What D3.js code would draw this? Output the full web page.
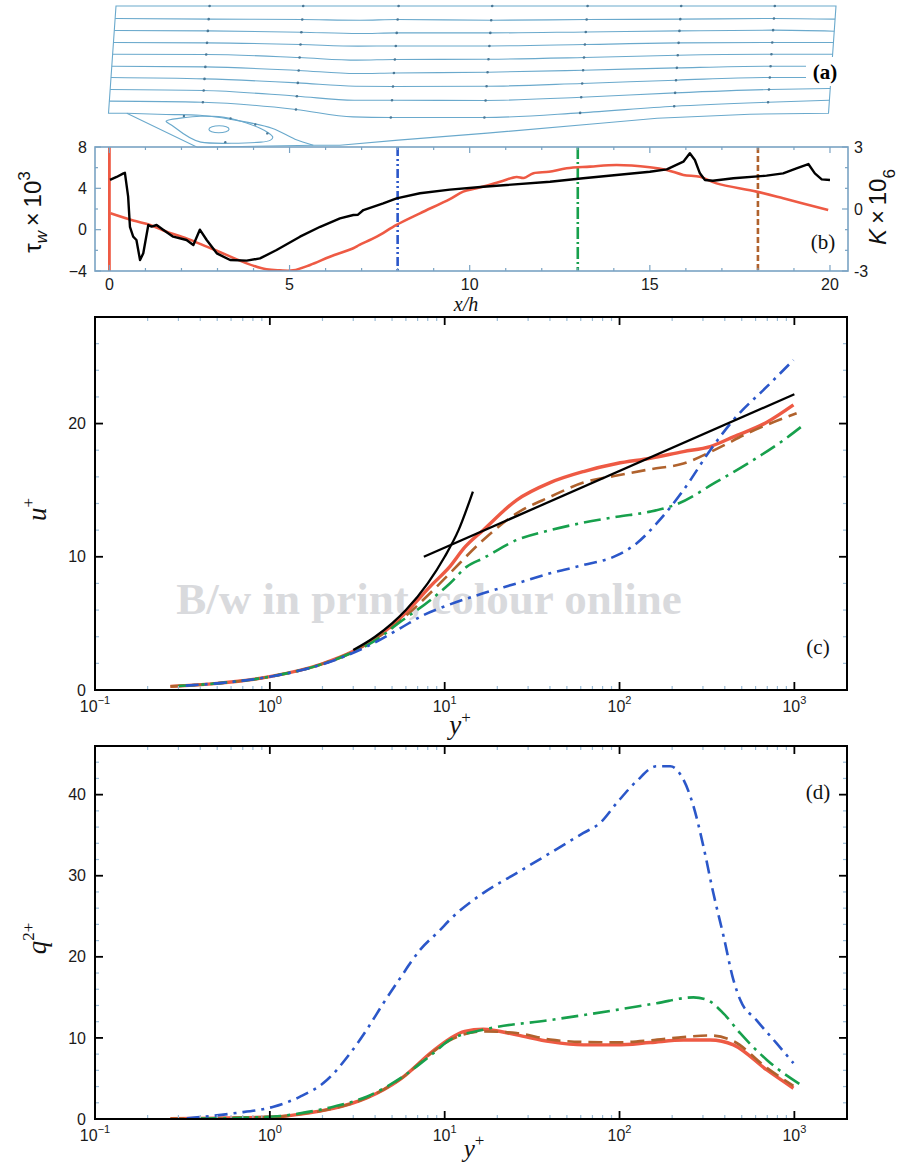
<!DOCTYPE html>
<html>
<head>
<meta charset="utf-8">
<script src="https://cdn.jsdelivr.net/npm/d3@7"></script>
<style>
  body { margin: 0; background: #fff; }
  svg { display: block; }
</style>
</head>
<body>
<svg id="fig" width="907" height="1165"></svg>
<script>
// ---------------- Data ----------------
// (a) streamlines over the backward-facing ramp, (x/h, height) pairs
const streamX = [0, 2.6, 5.2, 6.8, 7.85, 10.45, 13.1, 15.7, 18.3, 20];
const streamY1 = [12, 12, 12, 12, 12, 12, 12, 12, 12, 12];
const streamY2 = [10.95, 10.89, 10.86, 10.80, 10.86, 10.80, 10.86, 10.89, 10.95, 10.89];
const streamY3 = [9.93, 9.90, 9.79, 9.68, 9.73, 9.73, 9.81, 9.90, 9.96, 9.87];
const streamY4 = [8.92, 8.89, 8.75, 8.61, 8.63, 8.63, 8.75, 8.89, 8.92, 8.92];
const streamY5 = [7.93, 7.91, 7.65, 7.43, 7.49, 7.51, 7.65, 7.85, 7.93, 7.93];
const streamY6 = [6.92, 6.86, 6.56, 6.30, 6.35, 6.41, 6.58, 6.78, 6.92, 6.92];
const streamY7 = [5.97, 5.85, 5.51, 5.23, 5.21, 5.23, 5.46, 5.74, 5.97, 5.97];
const streamY8 = [4.95, 4.87, 4.39, 4.05, 4.05, 4.03, 4.30, 4.67, 4.95, 5.04];
const streamY9 = [3.97, 3.88, 3.27, 2.64, 2.59, 2.59, 2.98, 3.54, 3.88, 4.05];
const arrowX = [2.6, 5.2, 7.85, 10.45, 13.1, 15.7, 18.3];
const wallX = [20, 17.82, 15.25, 13.69, 10.56, 8.1, 6.49, 5.75, 2.53, 0.51, 0];
const wallY = [2.95, 2.87, 2.53, 2.11, 1.27, 0.68, 0.25, 0.25, 0.08, 2.95, 2.95];
const dividingX = [0.51, 1.6, 2.54, 3.39, 4.57, 5.23, 5.75];
const dividingY = [2.95, 2.85, 2.78, 2.45, 1.69, 0.76, 0.25];
const bubbleX = [1.66, 2.55, 3.38, 4.24, 4.61, 4.29, 2.62, 1.78];
const bubbleY = [2.36, 2.70, 2.53, 1.69, 0.93, 0.51, 0.51, 1.94];
const eddyCore = [3.1, 1.6, 0.28, 0.3]; // cx, cy, rx, ry

// (b) wall shear stress (left axis) and acceleration parameter K (right axis)
const tauWall = [[0.016,4.81],[0.2,5.1],[0.39,5.45],[0.43,5.5],[0.52,3.19],[0.57,0.28],[0.66,-0.68],[0.75,-1.0],
  [0.85,-2.94],[0.94,-2.29],[1.08,0.45],[1.17,0.3],[1.31,0.45],[1.49,0.0],[1.77,-0.68],[2.14,-1.0],[2.33,-1.49],
  [2.51,0.0],[2.7,-1.0],[2.98,-2.29],[3.35,-2.94],[3.81,-3.0],[4.18,-2.78],[4.64,-1.97],[5.29,-0.68],[5.85,0.28],
  [6.4,1.1],[6.77,1.42],[6.9,1.45],[7.05,1.9],[7.6,2.55],[7.97,3.03],[8.62,3.52],[9.45,3.88],[10.38,4.16],
  [12.23,4.64],[13.15,4.97],[15.0,5.61],[15.47,5.84],[15.93,6.58],[16.11,7.39],[16.25,6.74],[16.39,5.45],
  [16.53,4.81],[16.75,4.74],[17.32,4.97],[18.24,5.23],[18.7,5.45],[19.07,5.94],[19.4,6.35],[19.58,5.45],
  [19.77,4.87],[20.0,4.81]];
// K runs off the scale at the step edge (x/h = 0)
const accelKSpike = [[0, 3.5], [0, -3.5]];
const accelK = [[0.03,-0.21],[0.66,-0.56],[1.13,-0.77],[1.59,-1.1],[2.14,-1.42],[2.7,-1.82],
  [3.25,-2.22],[3.81,-2.63],[4.36,-2.92],[4.73,-2.97],[5.1,-2.97],[5.57,-2.71],[6.12,-2.31],[6.77,-1.9],
  [6.94,-1.74],[7.42,-1.34],[7.97,-0.77],[8.62,-0.21],[9.45,0.48],[9.82,0.84],[10.19,1.0],[10.84,1.32],
  [11.3,1.55],[11.5,1.5],[11.77,1.73],[12.2,1.8],[12.69,1.97],[13.34,2.05],[14.08,2.13],[15.0,2.02],
  [15.47,1.89],[15.93,1.65],[16.39,1.56],[16.85,1.24],[17.96,0.84],[18.7,0.52],[19.95,-0.05]];
const stationX = [8, 13, 18];
const bTicksX = [0, 5, 10, 15, 20];
const bTicksLeft = [-4, 0, 4, 8];
const bTicksRight = [-3, 0, 3];

// (c) mean velocity profiles u+ against y+
const uRed = [[0.27,0.27],[0.5,0.5],[1,1.0],[2,1.97],[3,2.9],[4,3.85],[5.56,5.4],[8.6,8.0],[10.7,9.26],
  [13,10.7],[16.6,12.0],[25.8,14.26],[40.1,15.57],[62.2,16.4],[96.5,17.0],[150,17.4],[232,17.9],[330,18.27],
  [448,19.0],[696,20.1],[988,21.4]];
const uBrown = [[0.27,0.27],[0.5,0.5],[1,1.0],[2,1.97],[3,2.9],[4,3.83],[5.56,5.2],[8.6,7.5],[10.7,8.76],
  [16.6,11.26],[25.8,13.26],[40.1,14.5],[62.2,15.57],[96.5,16.1],[150,16.57],[232,17.0],[360,18.1],
  [540,19.27],[1030,20.77]];
const uGreen = [[0.3,0.3],[0.5,0.5],[1,1.0],[2,1.95],[3,2.85],[4,3.7],[5.56,5.1],[8.3,6.76],[10.7,8.0],
  [13.4,9.26],[16.6,9.89],[25.8,11.26],[40.1,12.0],[62.2,12.56],[96.5,13.0],[150,13.39],[214,13.96],
  [360,15.64],[540,17.0],[870,18.77],[1130,19.9]];
const uBlue = [[0.33,0.33],[0.5,0.5],[1,1.0],[2,1.93],[3.58,3.25],[5.56,4.63],[7.5,5.6],[10.5,6.38],
  [16.6,7.26],[25.8,8.0],[40.1,8.76],[62.2,9.38],[96.5,10.1],[125,11.0],[163,12.5],[232,15.0],[330,18.0],
  [448,20.27],[696,22.77],[988,24.77]];
const uViscous = [[3,3],[4,4],[5,5],[6,6],[8,8],[10,10],[12,12],[14.5,14.9]];
const uLogLaw = [[7.6,10],[1000,22.2]];

// (d) turbulent kinetic energy q2+ against y+
const qRed = [[0.27,0.05],[1.05,0.25],[1.49,0.6],[2.31,1.3],[3.58,2.6],[5.56,4.9],[8.6,8.4],[10.7,9.9],
  [13,10.8],[16.6,11.07],[25.8,10.37],[40.1,9.54],[62.2,9.14],[96.5,9.14],[150,9.43],[232,9.75],[330,9.75],
  [448,9.14],[696,6.05],[988,3.79]];
const qBrown = [[0.27,0.05],[1.05,0.25],[1.49,0.6],[2.31,1.3],[3.58,2.6],[5.56,4.9],[8.6,8.3],[10.7,9.7],
  [16.6,10.8],[25.8,10.6],[40.1,9.8],[62.2,9.5],[96.5,9.45],[150,9.7],[232,10.1],[330,10.3],[448,9.6],
  [696,6.3],[988,4.1]];
const qGreen = [[0.4,0.05],[1.05,0.3],[1.49,0.7],[2.31,1.52],[3.58,2.75],[5.56,5.0],[8.6,8.1],[10.7,9.75],
  [16.6,11.0],[40.1,12.2],[96.5,13.46],[163,14.28],[265,15.0],[316,14.7],[394,13.0],[490,10.58],
  [696,7.28],[1130,4.0]];
const qBlue = [[0.335,0.08],[0.62,0.7],[1.05,1.52],[1.49,2.75],[2.12,4.8],[2.88,8.1],[3.58,11.0],
  [4.46,14.28],[5.56,17.37],[7.23,20.86],[9.4,23.3],[10.7,24.57],[16.6,27.86],[25.8,30.33],[40.1,32.8],
  [62.2,35.28],[77.3,36.5],[96.5,38.98],[125,41.65],[163,43.5],[195,43.5],[232,41.85],[265,38.56],
  [302,33.6],[344,27.86],[394,22.5],[448,17.16],[490,14.7],[607,12.2],[790,9.35],[988,6.88]];

const decadeTicks = [0.1, 1, 10, 100, 1000];
const decadeExp = ['\u22121', '0', '1', '2', '3'];
const cTicksY = [0, 10, 20];
const dTicksY = [0, 10, 20, 30, 40];

// ---------------- Styles ----------------
const SANS = "'Liberation Sans', Arial, Helvetica, sans-serif";
const SERIF = "'Liberation Serif', 'Times New Roman', serif";
const COL = {
  red: '#ee5a44', brown: '#b0622d', green: '#17a04c', blue: '#2b57c9', black: '#000',
  stream: '#6aa9cc', frameB: '#7aa3c3', minor: '#9cbdd7'
};

const svg = d3.select('#fig');
const defs = svg.append('defs');

// ---------------- Panel (a): streamlines ----------------
const ax = d3.scaleLinear().domain([0, 20]).range([116, 836]);
const ay = d3.scaleLinear().domain([0, 12]).range([148.2, 6]);
const gA = svg.append('g').attr('transform', 'translate(0,6) skewX(-4) translate(0,-6)');
const aStroke = { fill: 'none', stroke: COL.stream, 'stroke-width': 1.1 };
function styled(sel, s) { Object.entries(s).forEach(([k, v]) => sel.attr(k, v)); return sel; }

const outline = [[0, 12], [20, 12]].concat(wallX.map((x, i) => [x, wallY[i]]));
styled(gA.append('path')
  .attr('d', d3.line().x(d => ax(d[0])).y(d => ay(d[1]))(outline) + 'Z'), aStroke);

const streamlines = [streamY2, streamY3, streamY4, streamY5, streamY6, streamY7, streamY8, streamY9];
const sLine = d3.line().x(d => ax(d[0])).y(d => ay(d[1])).curve(d3.curveMonotoneX);
[streamY1].concat(streamlines).forEach((ys, li) => {
  const pts = streamX.map((x, i) => [x, ys[i]]);
  if (li > 0) styled(gA.append('path').attr('d', sLine(pts)), aStroke);
  const interp = d3.scaleLinear().domain(streamX).range(ys);
  arrowX.forEach(x => {
    gA.append('circle').attr('cx', ax(x)).attr('cy', ay(interp(x))).attr('r', 1.3)
      .attr('fill', '#4a7896');
  });
});

styled(gA.append('path').attr('d', d3.line().x(d => ax(d[0])).y(d => ay(d[1]))
  .curve(d3.curveCatmullRom)(dividingX.map((x, i) => [x, dividingY[i]]))), aStroke);
styled(gA.append('path').attr('d', d3.line().x(d => ax(d[0])).y(d => ay(d[1]))
  .curve(d3.curveCardinalClosed.tension(0.2))(bubbleX.map((x, i) => [x, bubbleY[i]]))), aStroke);
styled(gA.append('ellipse')
  .attr('cx', ax(eddyCore[0])).attr('cy', ay(eddyCore[1]))
  .attr('rx', ax(eddyCore[2]) - ax(0)).attr('ry', ay(0) - ay(eddyCore[3])), aStroke);
[[2.1, 2.72], [3.4, 2.52], [4.45, 1.25], [3.3, 0.51], [4.1, 2.0]].forEach(p => {
  gA.append('circle').attr('cx', ax(p[0])).attr('cy', ay(p[1])).attr('r', 1.2).attr('fill', '#4a7896');
});

svg.append('rect').attr('x', 806).attr('y', 57).attr('width', 34).attr('height', 29).attr('fill', '#fff');
svg.append('text').attr('x', 825).attr('y', 79).attr('text-anchor', 'middle')
  .attr('font-family', SERIF).attr('font-size', 21).attr('font-weight', 'bold').text('(a)');

// ---------------- Panel (b): wall shear stress and K ----------------
const bx = d3.scaleLinear().domain([-0.4, 20.5]).range([95, 848]);
const byL = d3.scaleLinear().domain([-4, 8]).range([271, 147]);
const byR = d3.scaleLinear().domain([-3, 3]).range([271, 147]);
const [bL, bR] = bx.range(), [bB, bT] = byL.range();

defs.append('clipPath').attr('id', 'clipB').append('rect')
  .attr('x', bL).attr('y', bT).attr('width', bR - bL).attr('height', bB - bT);

const gB = svg.append('g');
const gBc = gB.append('g').attr('clip-path', 'url(#clipB)');

// station markers
const stationStyle = [
  { c: COL.blue, d: '9,3,2,3,2,3' },
  { c: COL.green, d: '12,3,2,3' },
  { c: COL.brown, d: '6,3' }
];
stationX.forEach((x, i) => {
  gBc.append('line').attr('x1', bx(x)).attr('x2', bx(x)).attr('y1', bT).attr('y2', bB)
    .attr('stroke', stationStyle[i].c).attr('stroke-width', 2.6)
    .attr('stroke-dasharray', stationStyle[i].d);
});

const kLine = d3.line().x(d => bx(d[0])).y(d => byR(d[1]));
gBc.append('path').attr('d', kLine(accelKSpike))
  .attr('fill', 'none').attr('stroke', COL.red).attr('stroke-width', 2.8);
gBc.append('path').attr('d', kLine.curve(d3.curveCatmullRom.alpha(0.5))(accelK))
  .attr('fill', 'none').attr('stroke', COL.red).attr('stroke-width', 2.6);
gBc.append('path').attr('d', d3.line().x(d => bx(d[0])).y(d => byL(d[1]))(tauWall))
  .attr('fill', 'none').attr('stroke', COL.black).attr('stroke-width', 2.4)
  .attr('stroke-linejoin', 'round');

// frame and ticks
gB.append('rect').attr('x', bL).attr('y', bT).attr('width', bR - bL).attr('height', bB - bT)
  .attr('fill', 'none').attr('stroke', COL.frameB).attr('stroke-width', 1.6);
const gBt = gB.append('g').attr('stroke', COL.frameB).attr('stroke-width', 1.2);
d3.range(0, 21).forEach(v => {
  const L = bTicksX.includes(v) ? 6 : 3;
  gBt.append('line').attr('x1', bx(v)).attr('x2', bx(v)).attr('y1', bB).attr('y2', bB - L);
  gBt.append('line').attr('x1', bx(v)).attr('x2', bx(v)).attr('y1', bT).attr('y2', bT + L);
});
d3.range(-4, 9, 2).forEach(v => {
  const L = bTicksLeft.includes(v) ? 6 : 3;
  gBt.append('line').attr('x1', bL).attr('x2', bL + L).attr('y1', byL(v)).attr('y2', byL(v));
});
d3.range(-3, 4, 1).forEach(v => {
  const L = bTicksRight.includes(v) ? 6 : 3;
  gBt.append('line').attr('x1', bR).attr('x2', bR - L).attr('y1', byR(v)).attr('y2', byR(v));
});
const tickTxt = (g) => g.attr('font-family', SANS).attr('font-size', 16).attr('fill', '#1a1a1a');
bTicksX.forEach(v => tickTxt(gB.append('text')).attr('x', bx(v)).attr('y', bB + 19)
  .attr('text-anchor', 'middle').text(v));
bTicksLeft.forEach(v => tickTxt(gB.append('text')).attr('x', bL - 8).attr('y', byL(v)).attr('dy', '0.35em')
  .attr('text-anchor', 'end').text(v < 0 ? '\u2212' + (-v) : v));
bTicksRight.forEach(v => tickTxt(gB.append('text')).attr('x', bR + 6).attr('y', byR(v)).attr('dy', '0.35em')
  .attr('text-anchor', 'start').text(v < 0 ? '-' + (-v) : v));

// axis titles
const tauT = svg.append('text').attr('transform', 'translate(41,212) rotate(-90)')
  .attr('text-anchor', 'middle').attr('font-family', SANS).attr('font-size', 24).attr('fill', '#111');
tauT.append('tspan').text('\u03c4');
tauT.append('tspan').attr('dy', 6).attr('font-size', 17).attr('font-style', 'italic').text('w');
tauT.append('tspan').attr('dy', -6).text('\u2009\u00d7\u200910');
tauT.append('tspan').attr('dy', -11).attr('font-size', 17).text('3');

const kT = svg.append('text').attr('transform', 'translate(886,207) rotate(-90)')
  .attr('text-anchor', 'middle').attr('font-family', SANS).attr('font-size', 24).attr('fill', '#111');
kT.append('tspan').attr('font-style', 'italic').text('K');
kT.append('tspan').text('\u2009\u00d7\u200910');
kT.append('tspan').attr('dy', 9).attr('font-size', 17).text('6');

const xhT = svg.append('text').attr('x', 466).attr('y', 311).attr('text-anchor', 'middle')
  .attr('font-family', SERIF).attr('font-style', 'italic').attr('font-size', 20).attr('fill', '#111');
xhT.text('x/h');

svg.append('text').attr('x', 823).attr('y', 249).attr('text-anchor', 'middle')
  .attr('font-family', SERIF).attr('font-size', 21).attr('fill', '#111').text('(b)');

// ---------------- Panels (c) and (d): wall-unit profiles ----------------
const cx = d3.scaleLog().domain([0.1, 2000]).range([95, 847]);
const cy = d3.scaleLinear().domain([0, 28]).range([690, 317]);
const dy = d3.scaleLinear().domain([0, 46]).range([1119, 746]);

const styles = {
  red:   { stroke: COL.red, w: 3.4, dash: null },
  brown: { stroke: COL.brown, w: 2.6, dash: '14,7' },
  green: { stroke: COL.green, w: 2.6, dash: '17,6,3,6' },
  blue:  { stroke: COL.blue, w: 2.6, dash: '13,6,3,6' },
  black: { stroke: COL.black, w: 2.3, dash: null }
};

function profilePanel(id, x, y, yMajor, yStep, series, title, tag, tagY, xTitlePos) {
  const [L, R] = x.range(), [B, T] = y.range();
  defs.append('clipPath').attr('id', id).append('rect')
    .attr('x', L).attr('y', T).attr('width', R - L).attr('height', B - T);
  const g = svg.append('g');
  const gc = g.append('g').attr('clip-path', `url(#${id})`);
  const line = d3.line().x(d => x(d[0])).y(d => y(d[1])).curve(d3.curveMonotoneX);
  series.forEach(([data, key]) => {
    const s = styles[key];
    const p = gc.append('path').attr('d', line(data)).attr('fill', 'none')
      .attr('stroke', s.stroke).attr('stroke-width', s.w).attr('stroke-linecap', 'butt');
    if (s.dash) p.attr('stroke-dasharray', s.dash);
  });

  // minor ticks
  const gm = g.append('g').attr('stroke', COL.minor).attr('stroke-width', 1.2);
  decadeTicks.forEach(d => d3.range(2, 10).forEach(m => {
    const v = d * m;
    if (v > x.domain()[1]) return;
    gm.append('line').attr('x1', x(v)).attr('x2', x(v)).attr('y1', B).attr('y2', B - 4);
    gm.append('line').attr('x1', x(v)).attr('x2', x(v)).attr('y1', T).attr('y2', T + 4);
  }));
  d3.range(0, y.domain()[1] + 0.01, yStep).forEach(v => {
    if (yMajor.includes(v)) return;
    gm.append('line').attr('x1', L).attr('x2', L + 4).attr('y1', y(v)).attr('y2', y(v));
    gm.append('line').attr('x1', R).attr('x2', R - 4).attr('y1', y(v)).attr('y2', y(v));
  });
  // major ticks
  const gM = g.append('g').attr('stroke', '#000').attr('stroke-width', 1.8);
  decadeTicks.forEach(v => {
    gM.append('line').attr('x1', x(v)).attr('x2', x(v)).attr('y1', B).attr('y2', B - 8);
    gM.append('line').attr('x1', x(v)).attr('x2', x(v)).attr('y1', T).attr('y2', T + 8);
  });
  yMajor.forEach(v => {
    gM.append('line').attr('x1', L).attr('x2', L + 8).attr('y1', y(v)).attr('y2', y(v));
    gM.append('line').attr('x1', R).attr('x2', R - 8).attr('y1', y(v)).attr('y2', y(v));
  });
  g.append('rect').attr('x', L).attr('y', T).attr('width', R - L).attr('height', B - T)
    .attr('fill', 'none').attr('stroke', '#000').attr('stroke-width', 2);

  // tick labels
  decadeTicks.forEach((v, i) => {
    const t = tickTxt(g.append('text')).attr('x', x(v)).attr('y', B + 22).attr('text-anchor', 'middle');
    t.append('tspan').text('10');
    t.append('tspan').attr('dy', -8).attr('font-size', 11).text(decadeExp[i]);
  });
  yMajor.forEach(v => tickTxt(g.append('text')).attr('x', L - 9).attr('y', y(v)).attr('dy', '0.35em')
    .attr('text-anchor', 'end').text(v));

  // axis titles
  const xt = g.append('text').attr('x', xTitlePos[0]).attr('y', B + xTitlePos[1])
    .attr('text-anchor', 'middle').attr('font-family', SERIF).attr('font-style', 'italic')
    .attr('font-size', xTitlePos[2]).attr('fill', '#111');
  xt.append('tspan').text('y');
  xt.append('tspan').attr('dy', -11).attr('font-size', 17).attr('font-style', 'normal').text('+');

  const yt = g.append('text').attr('transform', `translate(46,${(T + B) / 2 + 6}) rotate(-90)`)
    .attr('text-anchor', 'middle').attr('font-family', SERIF).attr('font-style', 'italic')
    .attr('font-size', 27).attr('fill', '#111');
  yt.append('tspan').text(title[0]);
  yt.append('tspan').attr('dy', -12).attr('font-size', 17).attr('font-style', 'normal').text(title[1]);

  g.append('text').attr('x', 818).attr('y', tagY).attr('text-anchor', 'middle')
    .attr('font-family', SERIF).attr('font-size', 21).attr('fill', '#111').text(tag);
  return gc;
}

// faint print note sits beneath the profiles of (c)
svg.append('text').attr('x', 429).attr('y', 614).attr('text-anchor', 'middle')
  .attr('font-family', SERIF).attr('font-weight', 'bold').attr('font-size', 45)
  .attr('fill', '#d9dadd').text('B/w in print, colour online');

profilePanel('clipC', cx, cy, cTicksY, 2,
  [[uRed, 'red'], [uBrown, 'brown'], [uGreen, 'green'], [uBlue, 'blue'],
   [uViscous, 'black'], [uLogLaw, 'black']],
  ['u', '+'], '(c)', 654, [460, 44, 27]);

profilePanel('clipD', cx, dy, dTicksY, 2,
  [[qRed, 'red'], [qBrown, 'brown'], [qGreen, 'green'], [qBlue, 'blue']],
  ['q', '2+'], '(d)', 799, [474, 38, 25]);
</script>
</body>
</html>
